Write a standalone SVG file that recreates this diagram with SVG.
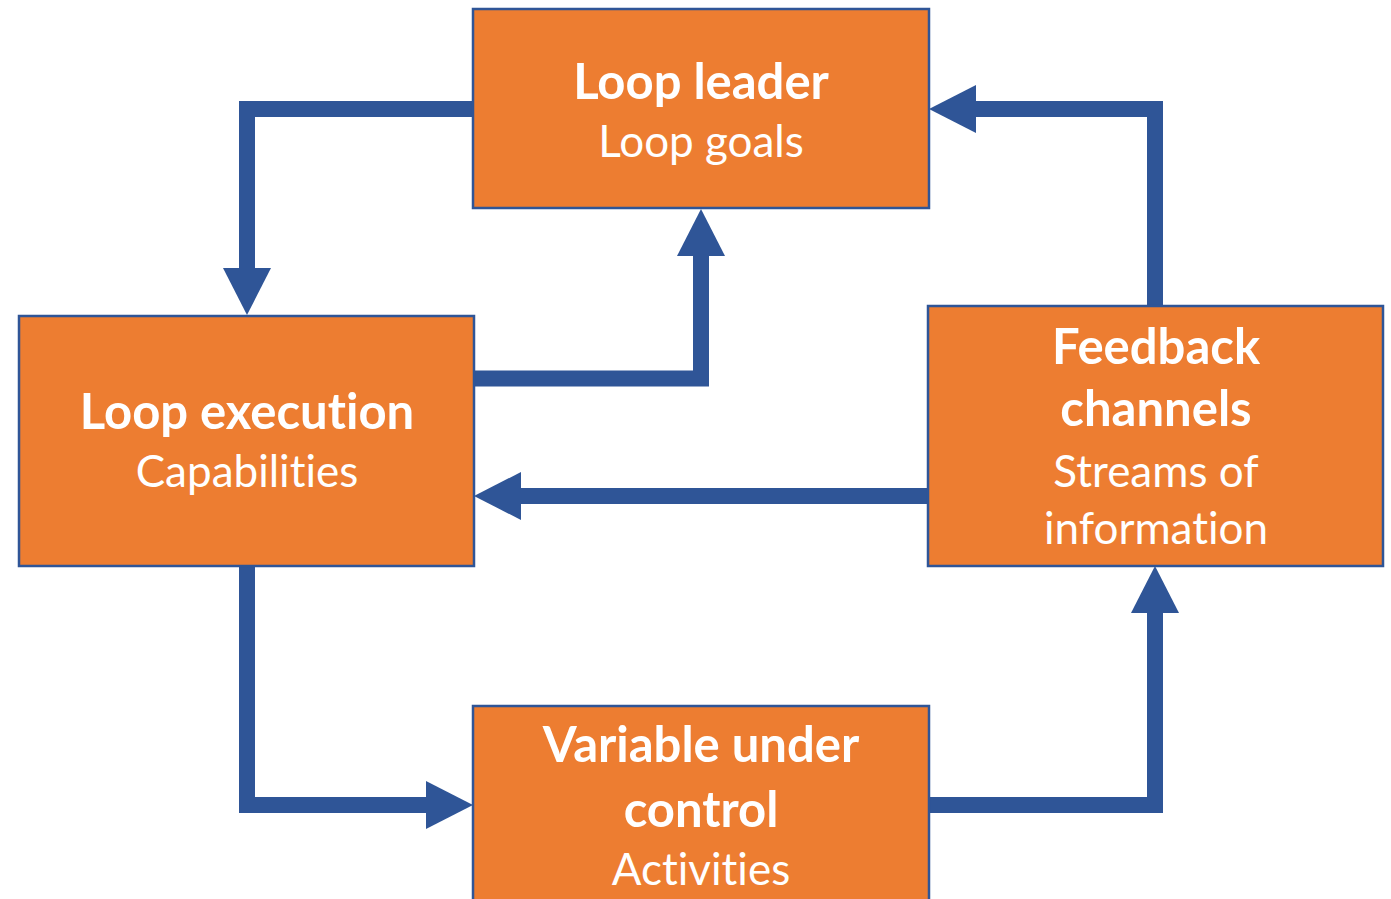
<svg xmlns="http://www.w3.org/2000/svg" width="1391" height="899" viewBox="0 0 1391 899">
  <style>
    .box { fill: #ED7D31; stroke: #2F5597; stroke-width: 2.5; }
    .link { fill: none; stroke: #2F5597; stroke-width: 16; stroke-linejoin: miter; stroke-linecap: butt; marker-end: url(#head); }
    .title, .sub { font-family: Lato, "Open Sans", "Liberation Sans", sans-serif; fill: #FFFFFF; text-anchor: middle; font-variant-ligatures: none; }
    .title { font-weight: 700; font-size: 49px; }
    .sub { font-weight: 400; font-size: 44px; }
  </style>
  <defs>
    <marker id="head" markerUnits="userSpaceOnUse" viewBox="0 0 47 48" markerWidth="47" markerHeight="48" refX="0" refY="24" orient="auto">
      <path d="M0,0 L47,24 L0,48 Z" fill="#2F5597"/>
    </marker>
  </defs>
  <rect width="1391" height="899" fill="#FFFFFF"/>

  <!-- arrows between the stages of the loop -->
  <g id="connectors">
    <path class="link" d="M473,109 H247 V268"/>
    <path class="link" d="M474,378.5 H701 V256"/>
    <path class="link" d="M1155,305 V109 H976"/>
    <path class="link" d="M927,496 H521"/>
    <path class="link" d="M247,566 V805 H426"/>
    <path class="link" d="M929,805 H1155 V613"/>
  </g>

  <g id="loop-leader">
    <rect class="box" x="473" y="9" width="456" height="199"/>
    <text class="title" x="701" y="99">Loop leader</text>
    <text class="sub" x="701" y="157">Loop goals</text>
  </g>

  <g id="loop-execution">
    <rect class="box" x="19" y="316" width="455" height="250"/>
    <text class="title" x="247" y="429">Loop execution</text>
    <text class="sub" x="247" y="487">Capabilities</text>
  </g>

  <g id="feedback-channels">
    <rect class="box" x="928" y="306" width="455" height="260"/>
    <text class="title" x="1156" y="364">Feedback</text>
    <text class="title" x="1156" y="426">channels</text>
    <text class="sub" x="1156" y="487">Streams of</text>
    <text class="sub" x="1156" y="544">information</text>
  </g>

  <g id="variable-under-control">
    <rect class="box" x="473" y="706" width="456" height="200"/>
    <text class="title" x="701" y="762">Variable under</text>
    <text class="title" x="701" y="827">control</text>
    <text class="sub" x="701" y="885">Activities</text>
  </g>
</svg>
